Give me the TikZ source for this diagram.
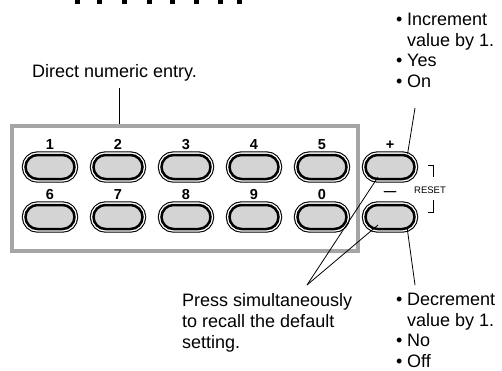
\documentclass[tikz,border=0pt]{standalone}
\usepackage{fontspec}
\setmainfont{Liberation Sans}
\usepackage{xcolor}
\usetikzlibrary{positioning}

\definecolor{framegray}{RGB}{165,165,165}
\definecolor{keygray}{RGB}{212,212,212}

\tikzset{
  keybtn/.style={shape=rectangle, minimum width=49pt, minimum height=24pt, inner sep=0pt,
    rounded corners=12pt,
    preaction={draw=black, line width=7.4pt},
    preaction={draw=white, line width=5.2pt},
    draw=black, line width=2.5pt, fill=keygray},
  keylbl/.style={font=\fontsize{14.5}{16}\selectfont\bfseries, inner sep=0pt, anchor=base},
  note/.style={font=\fontsize{18}{20.7}\selectfont, align=left, inner sep=0pt},
  lead/.style={line width=0.8pt}
}
\newcommand{\bul}{\makebox[11pt][l]{•}}

\begin{document}
\begin{tikzpicture}[x=1pt,y=-1pt]
  \useasboundingbox (0,0) rectangle (502,370);

  % cut-off heading at the top edge
  \foreach \x in {75,97,122,147,170,194,218,237}
    \fill (\x,0) rectangle (\x+5,4);

  % panel
  \node[draw=framegray, line width=4pt, minimum width=346pt, minimum height=125pt, inner sep=0pt] (frame) at (185,188.5) {};

  % number keys
  \foreach \i/\d in {0/1, 1/2, 2/3, 3/4, 4/5}
    \node[keybtn] (key\d) at (50+68*\i, 167) {};
  \foreach \i/\d in {0/6, 1/7, 2/8, 3/9, 4/0}
    \node[keybtn] (key\d) at (50+68*\i, 217) {};
  \foreach \d in {1,...,9,0}
    \node[keylbl] (lbl\d) at ([yshift=17.8pt]key\d.center) {\d};

  % +/- keys
  \node[keybtn] (kplus) at (390,167) {};
  \node[keybtn] (kminus) at (390,217) {};
  \node[keylbl] (lplus) at ([yshift=17.8pt]kplus.center) {+};
  \node[keylbl, font=\fontsize{12.5}{14}\selectfont\bfseries] (lminus) at ([yshift=21.5pt]kminus.center) {—};

  % reset bracket
  \node[font=\fontsize{9.5}{11}\selectfont, inner sep=0pt] (reset) at (430,190) {RESET};
  \draw[lead] (428,165) -- (433,165) -- (433,177);
  \draw[lead] (433,200) -- (433,212) -- (428,212);

  % callouts
  \node[note] (direct) at (114.5,73) {Direct numeric entry.};
  \coordinate (dtop) at (119,88);
  \draw[lead] (dtop) -- (dtop |- frame.north);

  \node[note, anchor=north west] (inc) at (396,13)
    {\bul Increment\\\hspace*{11pt}value by 1.\\\bul Yes\\\bul On};
  \coordinate (incfoot) at (415,108);
  \draw[lead] (incfoot) -- (kplus.37);

  \node[note, anchor=north west] (press) at (182,293.5)
    {Press simultaneously\\to recall the default\\setting.};
  \coordinate (apex) at (307,285);
  \draw[lead] (apex) -- ([xshift=-12pt,yshift=-10pt]kplus.center);
  \draw[lead] (apex) -- ([xshift=-12pt,yshift=-8pt]kminus.center);

  \node[note, anchor=north west] (dec) at (396,293)
    {\bul Decrement\\\hspace*{11pt}value by 1.\\\bul No\\\bul Off};
  \coordinate (decfoot) at (415,285);
  \draw[lead] ([xshift=17pt,yshift=-10pt]kminus.center) -- (decfoot);
\end{tikzpicture}
\end{document}
